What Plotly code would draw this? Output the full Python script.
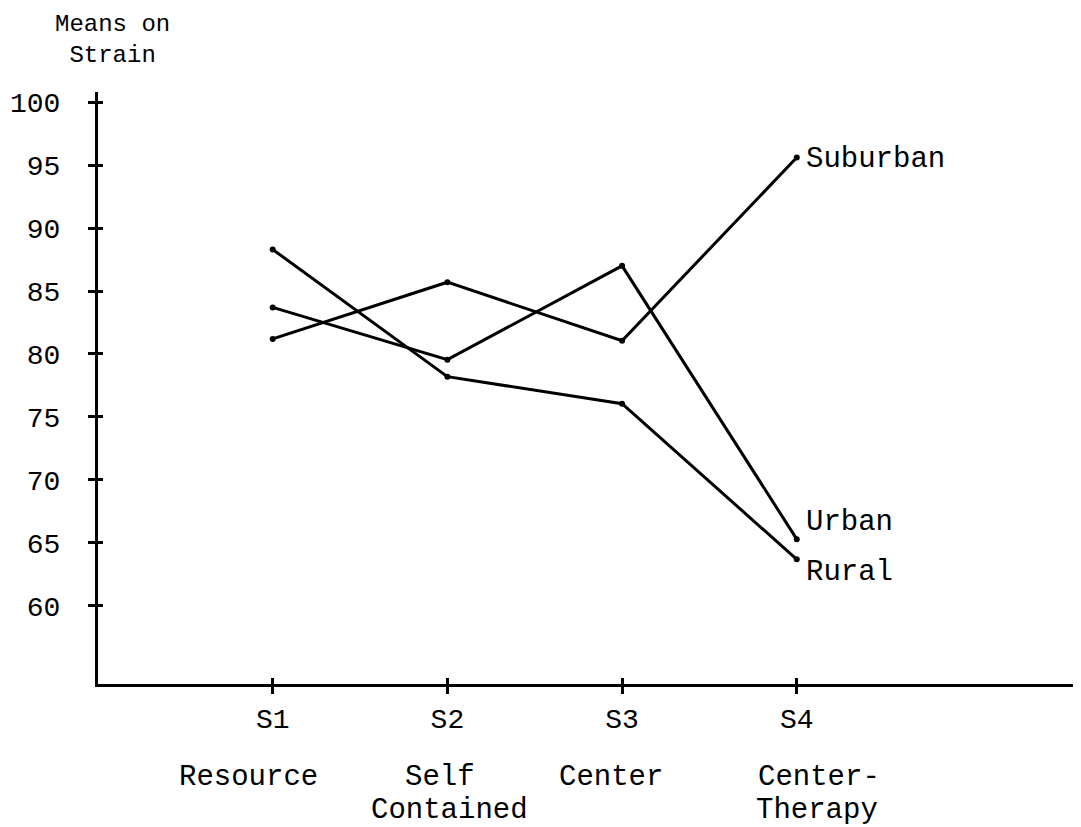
import plotly.graph_objects as go

stages = ["S1", "S2", "S3", "S4"]
stage_pos = [1, 2, 3, 4]
cat_line1 = ["Resource", "Self", "Center", "Center-"]
cat_line2 = ["", "Contained", "", "Therapy"]
shift1 = [-24, -7, -11, 22]
shift2 = [0, 2, 0, 20]

suburban = [81.2, 85.7, 81.05, 95.6]
urban = [83.7, 79.55, 87.0, 65.3]
rural = [88.3, 78.2, 76.05, 63.7]

y_ticks = [60, 65, 70, 75, 80, 85, 90, 95, 100]

FONT = "Liberation Mono"
fig = go.Figure()
series = [("Suburban", suburban, -2), ("Urban", urban, 17), ("Rural", rural, -13)]
for name, vals, ysh in series:
    fig.add_trace(go.Scatter(
        x=stage_pos, y=vals, mode="lines+markers", name=name,
        line=dict(color="black", width=3),
        marker=dict(color="black", size=6),
        showlegend=False, cliponaxis=False,
    ))
    fig.add_annotation(x=stage_pos[-1], y=vals[-1], text=name, showarrow=False,
                       xanchor="left", yanchor="middle", xshift=7, yshift=ysh,
                       font=dict(family=FONT, size=29, color="black"))

# carrier for the overlaid axes that draw the inner half of the crossing ticks
fig.add_trace(go.Scatter(x=stage_pos, y=rural, xaxis="x2", yaxis="y2", mode="none",
                         hoverinfo="skip", showlegend=False))

for xp, l1, l2, s1, s2 in zip(stage_pos, cat_line1, cat_line2, shift1, shift2):
    fig.add_annotation(x=xp, y=0, yref="paper", text=l1, showarrow=False,
                       xanchor="center", yanchor="middle", yshift=-93, xshift=s1,
                       font=dict(family=FONT, size=29, color="black"))
    if l2:
        fig.add_annotation(x=xp, y=0, yref="paper", text=l2, showarrow=False,
                           xanchor="center", yanchor="middle", yshift=-126, xshift=s2,
                           font=dict(family=FONT, size=29, color="black"))

fig.add_annotation(x=0.0, xref="paper", y=1.0, yref="paper", text="Means on<br>Strain",
                   showarrow=False, xanchor="center", yanchor="middle", yshift=52, xshift=14,
                   align="center", font=dict(family=FONT, size=24, color="black"))

axis_common = dict(showgrid=False, zeroline=False, tickcolor="black", tickwidth=2.5,
                   automargin=False)

fig.update_layout(
    width=1081, height=827,
    margin=dict(l=90, r=11, t=84, b=151),
    paper_bgcolor="white", plot_bgcolor="white",
    font=dict(family=FONT, size=28, color="black"),
    xaxis=dict(range=[0, 5.61], tickvals=stage_pos, ticktext=stages,
               showline=True, linecolor="black", linewidth=3,
               ticks="outside", ticklen=7, ticklabelstandoff=0,
               tickfont=dict(family=FONT, size=28), **axis_common),
    yaxis=dict(range=[53.8, 100.8], tickvals=y_ticks,
               showline=True, linecolor="black", linewidth=3,
               ticks="outside", ticklen=7, ticklabelstandoff=22,
               tickfont=dict(family=FONT, size=28), **axis_common),
    xaxis2=dict(range=[0, 5.61], tickvals=stage_pos, overlaying="x", side="bottom",
                showticklabels=False, showline=False, ticks="inside", ticklen=6,
                **axis_common),
    yaxis2=dict(range=[53.8, 100.8], tickvals=y_ticks, overlaying="y", side="left",
                showticklabels=False, showline=False, ticks="inside", ticklen=5,
                **axis_common),
)

fig.write_html("out.html")
